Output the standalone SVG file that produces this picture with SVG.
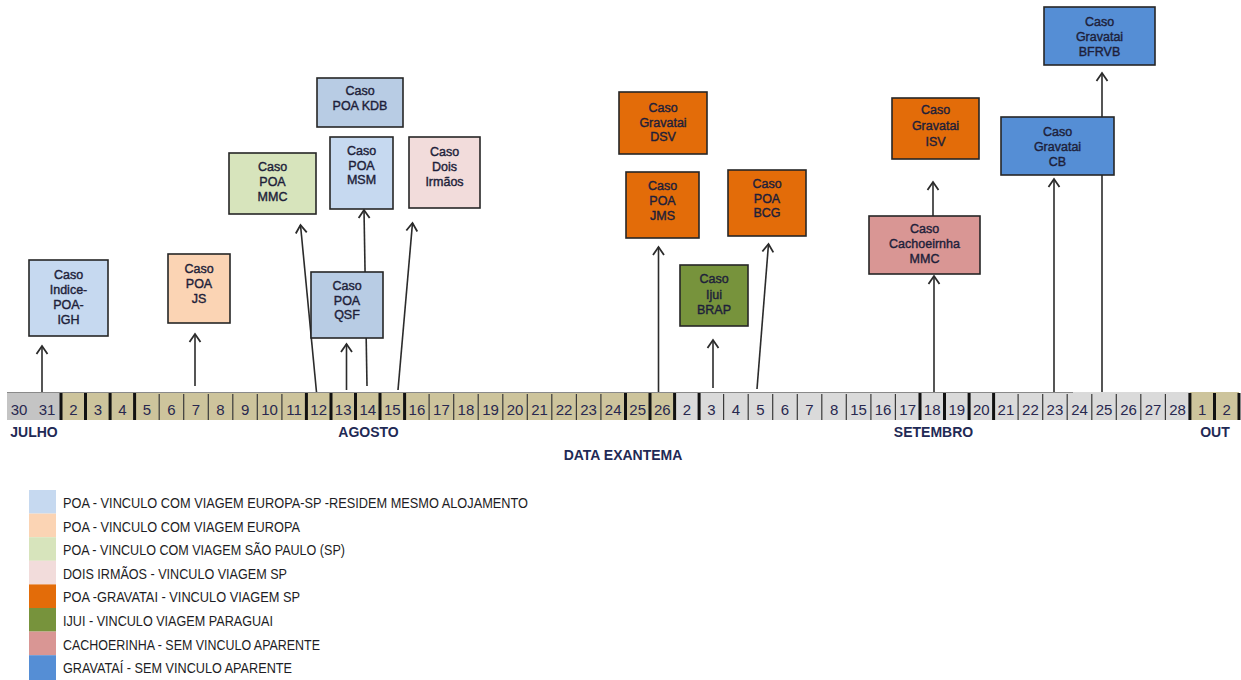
<svg xmlns="http://www.w3.org/2000/svg" width="1241" height="680" viewBox="0 0 1241 680">
<style>
.bx{stroke:#262626;stroke-width:1.6}
.bt{font-family:"Liberation Sans",Arial,sans-serif;font-size:12.5px;fill:#1e1f3a;text-anchor:middle;stroke:#1e1f3a;stroke-width:0.4}
.num{font-family:"Liberation Sans",Arial,sans-serif;font-size:15px;fill:#28284f;text-anchor:middle}
.mon{font-family:"Liberation Sans",Arial,sans-serif;font-size:14px;font-weight:bold;fill:#1f2a55;text-anchor:middle}
.leg{font-family:"Liberation Sans",Arial,sans-serif;font-size:15px;fill:#1d1d24}
.ar{stroke:#2b2b2b;stroke-width:1.6;fill:none;marker-end:url(#ah)}
.blue1{fill:#c6d9f0}.blue2{fill:#b8cce4}.peach{fill:#fbd4b4}.green{fill:#d7e4bc}.pink{fill:#f2dcdb}.orange{fill:#e36c09}.olive{fill:#77933c}.rose{fill:#d99694}.blue3{fill:#558ed5}
</style>
<defs>
<marker id="ah" markerUnits="userSpaceOnUse" markerWidth="24" markerHeight="24" viewBox="-12 -12 24 24" refX="0" refY="0" orient="auto">
<path d="M-8,-5.5 L0,0 L-8,5.5" fill="none" stroke="#2b2b2b" stroke-width="1.8"/>
</marker>
</defs>
<rect width="1241" height="680" fill="#ffffff"/>

<g id="timeline">
<rect x="7" y="392" width="54" height="28" fill="#c4c4c4"/>
<rect x="61" y="392" width="613.6" height="28" fill="#cdc49c"/>
<rect x="674.6" y="392" width="515.3" height="28" fill="#dadada"/>
<rect x="1189.9" y="392" width="49.1" height="28" fill="#cdc49c"/>
<path d="M7,392.5 H1073" stroke="#8a8a8a" stroke-width="1"/>
<path stroke="#3a3a3a" stroke-width="1.2" fill="none" d="M159.2,394V420 M183.7,394V420 M208.3,394V420 M232.8,394V420 M257.3,394V420 M281.9,394V420 M429.1,394V420 M453.7,394V420 M478.2,394V420 M502.8,394V420 M527.3,394V420 M551.8,394V420 M576.4,394V420 M600.9,394V420 M723.6,394V420 M748.2,394V420 M772.7,394V420 M797.3,394V420 M821.8,394V420 M846.3,394V420 M870.9,394V420 M895.4,394V420 M1018.1,394V420 M1042.7,394V420 M1067.2,394V420 M1091.8,394V420 M1116.3,394V420 M1140.8,394V420 M1165.4,394V420"/>
<path stroke="#111111" stroke-width="3" fill="none" d="M61,393V420 M85.5,393V420 M110.1,393V420 M134.6,393V420 M306.4,393V420 M331,393V420 M355.5,393V420 M380,393V420 M404.6,393V420 M625.5,393V420 M650,393V420 M674.6,393V420 M699.1,393V420 M920,393V420 M944.5,393V420 M969.1,393V420 M993.6,393V420 M1189.9,393V420 M1214.5,393V420 M1239,393V420"/>
<g class="num">
<text x="19" y="415">30</text><text x="47" y="415">31</text>
<text x="73.3" y="415">2</text><text x="97.8" y="415">3</text><text x="122.4" y="415">4</text><text x="146.9" y="415">5</text><text x="171.4" y="415">6</text><text x="196" y="415">7</text><text x="220.5" y="415">8</text><text x="245.1" y="415">9</text><text x="269.6" y="415">10</text><text x="294.1" y="415">11</text><text x="318.7" y="415">12</text><text x="343.2" y="415">13</text><text x="367.8" y="415">14</text><text x="392.3" y="415">15</text><text x="416.9" y="415">16</text><text x="441.4" y="415">17</text><text x="465.9" y="415">18</text><text x="490.5" y="415">19</text><text x="515" y="415">20</text><text x="539.6" y="415">21</text><text x="564.1" y="415">22</text><text x="588.6" y="415">23</text><text x="613.2" y="415">24</text><text x="637.7" y="415">25</text><text x="662.3" y="415">26</text>
<text x="686.8" y="415">2</text><text x="711.4" y="415">3</text><text x="735.9" y="415">4</text><text x="760.4" y="415">5</text><text x="785" y="415">6</text><text x="809.5" y="415">7</text><text x="834.1" y="415">8</text><text x="858.6" y="415">15</text><text x="883.1" y="415">16</text><text x="907.7" y="415">17</text><text x="932.2" y="415">18</text><text x="956.8" y="415">19</text><text x="981.3" y="415">20</text><text x="1005.9" y="415">21</text><text x="1030.4" y="415">22</text><text x="1054.9" y="415">23</text><text x="1079.5" y="415">24</text><text x="1104" y="415">25</text><text x="1128.6" y="415">26</text><text x="1153.1" y="415">27</text><text x="1177.6" y="415">28</text>
<text x="1202.2" y="415">1</text><text x="1226.7" y="415">2</text>
</g>
<g class="mon">
<text x="34" y="437">JULHO</text>
<text x="368.5" y="437">AGOSTO</text>
<text x="933.5" y="437">SETEMBRO</text>
<text x="1215" y="437">OUT</text>
<text x="623" y="460">DATA EXANTEMA</text>
</g>
</g>

<g id="connectors">
<path class="ar" d="M42,392 V346"/>
<path class="ar" d="M195,386 V334"/>
<path class="ar" d="M316.5,392 L300.5,225"/>
<path class="ar" d="M346.5,390 V344"/>
<path class="ar" d="M367,386 L364,210"/>
<path class="ar" d="M398,390 L412.5,223"/>
<path class="ar" d="M658.5,392 V247"/>
<path class="ar" d="M713,388 V340"/>
<path class="ar" d="M757,389 L768.5,244"/>
<path class="ar" d="M934,392 V276"/>
<path class="ar" d="M933,216 V182"/>
<path class="ar" d="M1054,392 V179"/>
<path class="ar" d="M1102,392 V73"/>
</g>

<g id="caso-indice-poa-igh">
<rect class="bx blue1" x="29" y="260" width="79" height="76"/>
<text class="bt" x="68.5" y="279">Caso</text><text class="bt" x="68.5" y="294">Indice-</text><text class="bt" x="68.5" y="309">POA-</text><text class="bt" x="68.5" y="324">IGH</text>
</g>
<g id="caso-poa-js">
<rect class="bx peach" x="168" y="254" width="62" height="69"/>
<text class="bt" x="199" y="273">Caso</text><text class="bt" x="199" y="288">POA</text><text class="bt" x="199" y="303">JS</text>
</g>
<g id="caso-poa-mmc">
<rect class="bx green" x="229" y="153" width="87" height="61"/>
<text class="bt" x="272.5" y="171">Caso</text><text class="bt" x="272.5" y="186">POA</text><text class="bt" x="272.5" y="201">MMC</text>
</g>
<g id="caso-poa-kdb">
<rect class="bx blue2" x="317" y="78" width="86" height="49"/>
<text class="bt" x="360" y="95">Caso</text><text class="bt" x="360" y="110">POA KDB</text>
</g>
<g id="caso-poa-msm">
<rect class="bx blue1" x="330" y="137" width="63" height="72"/>
<text class="bt" x="361.5" y="155">Caso</text><text class="bt" x="361.5" y="170">POA</text><text class="bt" x="361.5" y="184">MSM</text>
</g>
<g id="caso-dois-irmaos">
<rect class="bx pink" x="409" y="137" width="71" height="71"/>
<text class="bt" x="444.5" y="156">Caso</text><text class="bt" x="444.5" y="171">Dois</text><text class="bt" x="444.5" y="186">Irmãos</text>
</g>
<g id="caso-poa-qsf">
<rect class="bx blue2" x="311" y="272" width="72" height="66"/>
<text class="bt" x="347" y="290">Caso</text><text class="bt" x="347" y="305">POA</text><text class="bt" x="347" y="319">QSF</text>
</g>
<g id="caso-gravatai-dsv">
<rect class="bx orange" x="619" y="92" width="88" height="62"/>
<text class="bt" x="663" y="112">Caso</text><text class="bt" x="663" y="127">Gravatai</text><text class="bt" x="663" y="141">DSV</text>
</g>
<g id="caso-poa-jms">
<rect class="bx orange" x="626" y="172" width="73" height="66"/>
<text class="bt" x="662.5" y="190">Caso</text><text class="bt" x="662.5" y="205">POA</text><text class="bt" x="662.5" y="220">JMS</text>
</g>
<g id="caso-poa-bcg">
<rect class="bx orange" x="728" y="170" width="78" height="66"/>
<text class="bt" x="767" y="188">Caso</text><text class="bt" x="767" y="203">POA</text><text class="bt" x="767" y="217">BCG</text>
</g>
<g id="caso-ijui-brap">
<rect class="bx olive" x="680" y="265" width="68" height="61"/>
<text class="bt" x="714" y="283">Caso</text><text class="bt" x="714" y="299">Ijui</text><text class="bt" x="714" y="314">BRAP</text>
</g>
<g id="caso-gravatai-isv">
<rect class="bx orange" x="892" y="98" width="87" height="61"/>
<text class="bt" x="935.5" y="114">Caso</text><text class="bt" x="935.5" y="130">Gravatai</text><text class="bt" x="935.5" y="146">ISV</text>
</g>
<g id="caso-cachoeirnha-mmc">
<rect class="bx rose" x="869" y="216" width="111" height="58"/>
<text class="bt" x="924.5" y="233">Caso</text><text class="bt" x="924.5" y="248">Cachoeirnha</text><text class="bt" x="924.5" y="263">MMC</text>
</g>
<g id="caso-gravatai-cb">
<rect class="bx blue3" x="1001" y="117" width="113" height="58"/>
<text class="bt" x="1057.5" y="136">Caso</text><text class="bt" x="1057.5" y="151">Gravatai</text><text class="bt" x="1057.5" y="166">CB</text>
</g>
<g id="caso-gravatai-bfrvb">
<rect class="bx blue3" x="1044" y="7" width="111" height="58"/>
<text class="bt" x="1099.5" y="26">Caso</text><text class="bt" x="1099.5" y="41">Gravatai</text><text class="bt" x="1099.5" y="56">BFRVB</text>
</g>

<g id="legend">
<rect x="29" y="490" width="27" height="23.6" class="blue1"/>
<rect x="29" y="513.6" width="27" height="23.6" class="peach"/>
<rect x="29" y="537.2" width="27" height="23.6" class="green"/>
<rect x="29" y="560.8" width="27" height="23.6" class="pink"/>
<rect x="29" y="584.4" width="27" height="23.6" class="orange"/>
<rect x="29" y="608" width="27" height="23.6" class="olive"/>
<rect x="29" y="631.6" width="27" height="23.6" class="rose"/>
<rect x="29" y="655.2" width="27" height="24.8" class="blue3"/>
<text class="leg" x="63" y="508" textLength="465" lengthAdjust="spacingAndGlyphs">POA - VINCULO COM VIAGEM EUROPA-SP -RESIDEM MESMO ALOJAMENTO</text>
<text class="leg" x="63" y="531.6" textLength="237" lengthAdjust="spacingAndGlyphs">POA - VINCULO COM VIAGEM EUROPA</text>
<text class="leg" x="63" y="555.2" textLength="282" lengthAdjust="spacingAndGlyphs">POA - VINCULO COM VIAGEM SÃO PAULO (SP)</text>
<text class="leg" x="63" y="578.8" textLength="224" lengthAdjust="spacingAndGlyphs">DOIS IRMÃOS - VINCULO VIAGEM SP</text>
<text class="leg" x="63" y="602.4" textLength="237" lengthAdjust="spacingAndGlyphs">POA -GRAVATAI - VINCULO VIAGEM SP</text>
<text class="leg" x="63" y="626" textLength="210" lengthAdjust="spacingAndGlyphs">IJUI - VINCULO VIAGEM PARAGUAI</text>
<text class="leg" x="63" y="649.6" textLength="257" lengthAdjust="spacingAndGlyphs">CACHOERINHA - SEM VINCULO APARENTE</text>
<text class="leg" x="63" y="673.2" textLength="229" lengthAdjust="spacingAndGlyphs">GRAVATAÍ - SEM VINCULO APARENTE</text>
</g>
</svg>
